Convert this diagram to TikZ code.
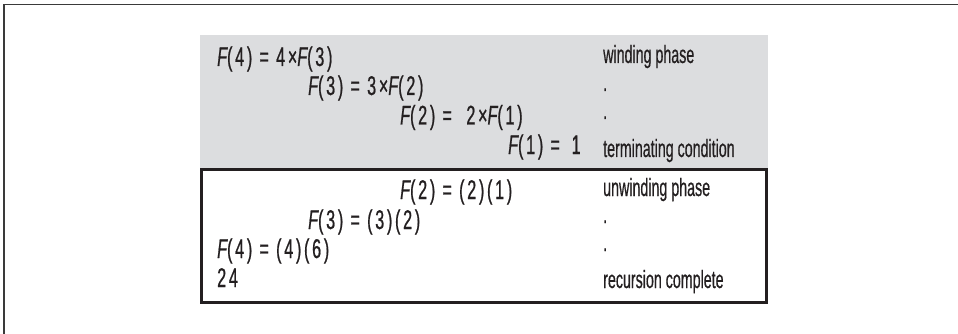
\documentclass[tikz,border=0pt]{standalone}
\usepackage{fontspec}
\setmainfont{Liberation Sans}
\newfontfamily\eqfont{Liberation Sans}[FakeStretch=0.6, LetterSpace=10, FakeBold=0.7]
\newfontfamily\lblfont{Liberation Sans}[FakeStretch=0.57, FakeBold=0.5]
\definecolor{panelgray}{HTML}{DCDDDF}
\definecolor{inkc}{HTML}{231F20}
\definecolor{framec}{HTML}{3A3A3A}
\newcommand{\Fv}{{\itshape F}}
\begin{document}
\begin{tikzpicture}[x=1pt,y=-1pt,
  eq/.style={anchor=base west, inner sep=0pt, font=\eqfont\fontsize{27}{30}\selectfont, text=inkc},
  lbl/.style={anchor=base west, inner sep=0pt, font=\lblfont\fontsize{25}{28}\selectfont, text=inkc}]
\useasboundingbox (0,0) rectangle (958,334);
% outer frame (top and left edges)
\draw[framec, line width=1.5pt] (4,334) -- (4,4.5) -- (958,4.5);
% winding panel
\fill[panelgray] (200,35) rectangle (768,169);
% unwinding panel
\draw[inkc, line width=2.5pt, fill=white] (201.5,169.5) rectangle (766.5,302.5);
% winding phase equations
\node[eq] (w1) at (217,66) {\Fv(4) = 4×\Fv(3)};
\node[eq] (w2) at (308,95) {\Fv(3) = 3×\Fv(2)};
\node[eq] (w3) at (400,124.5) {\Fv(2) =\ \ 2×\Fv(1)};
\node[eq] (w4) at (508,154) {\Fv(1) = \,1};
% winding labels
\node[lbl] (l1) at (603,63) {winding phase};
\node[lbl] (l2) at (603,91) {.};
\node[lbl] (l3) at (603,119) {.};
\node[lbl] (l4) at (603,157) {terminating condition};
% unwinding phase equations
\node[eq] (u1) at (400,199) {\Fv(2) = (2)(1)};
\node[eq] (u2) at (308,229) {\Fv(3) = (3)(2)};
\node[eq] (u3) at (217,258) {\Fv(4) = (4)(6)};
\node[eq] (u4) at (217,287) {24};
% unwinding labels
\node[lbl] (m1) at (603,196) {unwinding phase};
\node[lbl] (m2) at (603,223) {.};
\node[lbl] (m3) at (603,251) {.};
\node[lbl] (m4) at (603,288) {recursion complete};
\end{tikzpicture}
\end{document}
